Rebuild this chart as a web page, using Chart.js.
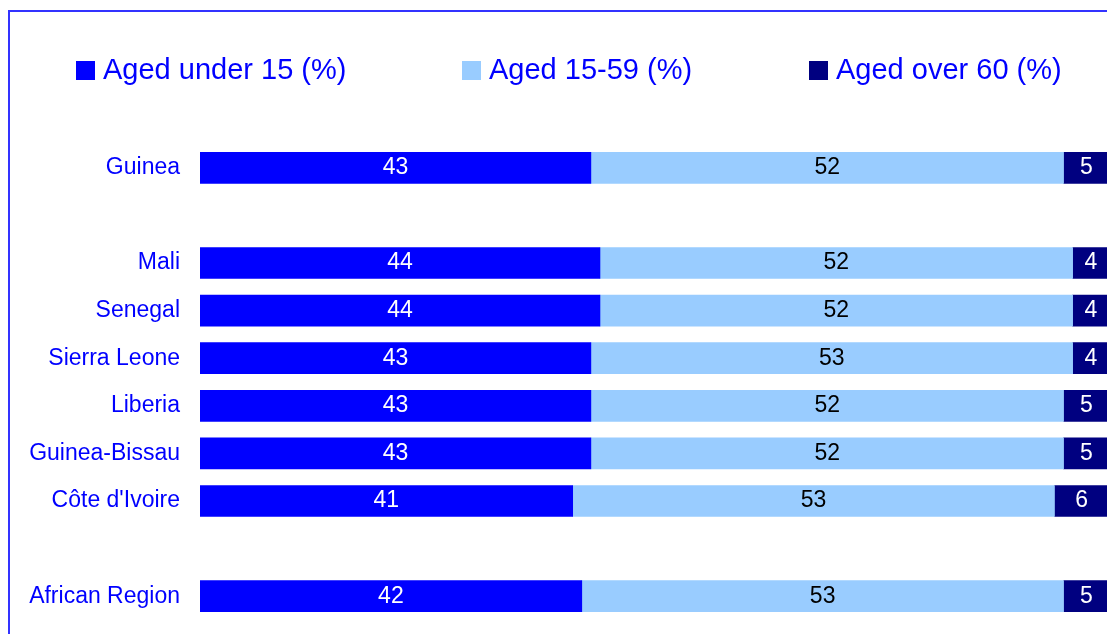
<!DOCTYPE html>
<html lang="en">

<head>
    <meta charset="UTF-8">
    <title>Population by age group</title>
    <style>
        html, body { margin: 0; padding: 0; background: #fff; overflow: hidden; }
        #wrap { position: relative; width: 1107px; height: 634px; overflow: hidden; }
        #frame {
            position: absolute; left: 8px; top: 10px; width: 1200px; height: 700px;
            border-left: 2px solid #3333ff; border-top: 2px solid #3333ff;
        }
        #canvas { position: absolute; left: 0; top: 0; }
        .legend-item {
            position: absolute; top: 54px; font-family: "Liberation Sans", Arial, sans-serif;
            font-size: 29px; color: #0000ff; white-space: nowrap; line-height: 30px;
        }
        .legend-item span.box {
            display: inline-block; width: 19px; height: 19px; margin-right: 8px;
            vertical-align: -1px;
        }
    </style>
</head>

<body>
    <div id="wrap">
        <div id="frame"></div>
        <canvas id="canvas" width="1110" height="634"></canvas>
    </div>

    <script src="https://cdn.jsdelivr.net/npm/chart.js@4.4.1/dist/chart.umd.min.js"></script>
    <script>
        // empty labels leave the gaps between groups
        const countries = ['Guinea', '', 'Mali', 'Senegal', 'Sierra Leone', 'Liberia',
            'Guinea-Bissau', "Côte d'Ivoire", '', 'African Region'];
        const under15 = [43, null, 44, 44, 43, 43, 43, 41, null, 42];
        const aged15to59 = [52, null, 52, 52, 53, 52, 52, 53, null, 53];
        const over60 = [5, null, 4, 4, 4, 5, 5, 6, null, 5];

        const seriesNames = ['Aged under 15 (%)', 'Aged 15-59 (%)', 'Aged over 60 (%)'];
        const seriesColors = ['#0000ff', '#99ccff', '#000080'];
        const labelColors = ['#ffffff', '#000000', '#ffffff'];
        const legendX = [76, 462, 809];

        // legend
        seriesNames.forEach(function (name, i) {
            var div = document.createElement('div');
            div.className = 'legend-item';
            div.style.left = legendX[i] + 'px';
            div.innerHTML = '<span class="box" style="background:' + seriesColors[i] + '"></span>' + name;
            document.getElementById('wrap').appendChild(div);
        });

        // value in the middle of each segment
        const barLabels = {
            id: 'barLabels',
            afterDatasetsDraw(chart) {
                const ctx = chart.ctx;
                ctx.save();
                ctx.font = '23px "Liberation Sans", Arial, sans-serif';
                ctx.textAlign = 'center';
                ctx.textBaseline = 'middle';
                chart.data.datasets.forEach(function (ds, i) {
                    chart.getDatasetMeta(i).data.forEach(function (bar, j) {
                        const v = ds.data[j];
                        if (v == null) return;
                        const cx = (bar.x + bar.base) / 2;
                        ctx.fillStyle = labelColors[i];
                        ctx.fillText(String(v), cx, bar.y);
                    });
                });
                ctx.restore();
            }
        };

        const data = [under15, aged15to59, over60];

        var ctx = document.getElementById('canvas').getContext('2d');
        var myChart = new Chart(ctx, {
            type: 'bar',
            data: {
                labels: countries,
                datasets: seriesNames.map(function (name, i) {
                    return {
                        label: name,
                        data: data[i],
                        backgroundColor: seriesColors[i],
                        borderWidth: 0,
                        barThickness: 31
                    };
                })
            },
            plugins: [barLabels],
            options: {
                indexAxis: 'y',
                responsive: false,
                animation: false,
                layout: { padding: { left: 0, right: 1, top: 144, bottom: 14 } },
                plugins: {
                    legend: { display: false },
                    tooltip: { enabled: false }
                },
                scales: {
                    x: {
                        stacked: true,
                        min: 0,
                        max: 100,
                        display: false
                    },
                    y: {
                        stacked: true,
                        border: { display: false },
                        grid: { display: false, drawTicks: false },
                        ticks: {
                            color: '#0000ff',
                            padding: 20,
                            font: { family: '"Liberation Sans", Arial, sans-serif', size: 23 }
                        },
                        afterFit: function (scale) {
                            scale.width = 200;
                            scale.paddingTop = 0;
                            scale.paddingBottom = 0;
                        }
                    }
                }
            }
        });
    </script>
</body>

</html>
